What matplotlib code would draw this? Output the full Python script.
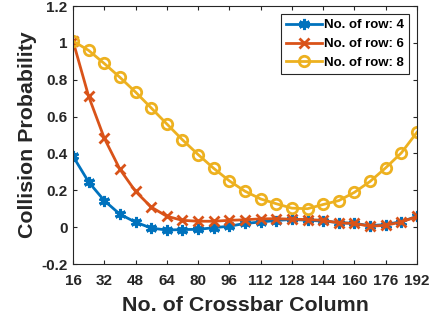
import numpy as np
import matplotlib
matplotlib.use("Agg")
import matplotlib.pyplot as plt

plt.rcParams['font.family'] = ['Liberation Sans', 'DejaVu Sans']
plt.rcParams['font.weight'] = 'bold'

cols = np.arange(16, 193, 8)
row4 = [0.385, 0.245, 0.144, 0.07, 0.027, -0.005, -0.016, -0.013, -0.012, -0.003,
        0.005, 0.02, 0.028, 0.036, 0.042, 0.037, 0.033, 0.025, 0.02, 0.008,
        0.014, 0.03, 0.058]
row6 = [1.01, 0.71, 0.483, 0.314, 0.194, 0.109, 0.059, 0.037, 0.032, 0.032,
        0.037, 0.04, 0.045, 0.046, 0.043, 0.041, 0.037, 0.023, 0.02, 0.005,
        0.01, 0.028, 0.058]
row8 = [1.01, 0.959, 0.888, 0.813, 0.733, 0.647, 0.56, 0.474, 0.394, 0.319,
        0.251, 0.195, 0.153, 0.127, 0.103, 0.1, 0.123, 0.144, 0.189, 0.248,
        0.322, 0.403, 0.515]
labels = ["No. of row: 4", "No. of row: 6", "No. of row: 8"]

fig = plt.figure(figsize=(4.35, 3.21), dpi=100)
# axes box: x 73..417 px, y 6..264 px
ax = fig.add_axes([73 / 435, 1 - 264 / 321, 344 / 435, 258 / 321])

ax.plot(cols, row4, color='#0072BD', lw=2, marker=(6, 2, 0), ms=8, mew=2.2,
        label=labels[0])
ax.plot(cols, row6, color='#D95319', lw=2, marker='x', ms=6.5, mew=2,
        label=labels[1])
ax.plot(cols, row8, color='#EDB120', lw=2, marker='o', ms=7.5, mew=2,
        mfc='none', label=labels[2])

ax.set_xlim(16, 192)
ax.set_ylim(-0.2, 1.2)
ax.set_xticks(np.arange(16, 193, 16))
ax.set_yticks(np.arange(-0.2, 1.21, 0.2))
ax.set_yticklabels(['-0.2', '0', '0.2', '0.4', '0.6', '0.8', '1', '1.2'])
ax.tick_params(direction='in', top=True, right=True, labelsize=11,
               length=3, width=0.8, colors='#262626', labelcolor='#262626')
ax.tick_params(axis='x', pad=7)
ax.tick_params(axis='y', pad=4)
for s in ax.spines.values():
    s.set_color('#262626')
    s.set_linewidth(0.8)

ax.set_xlabel("No. of Crossbar Column", fontsize=15.4, fontweight='bold',
              color='#262626', labelpad=6)
ax.set_ylabel("Collision Probability", fontsize=15.4, fontweight='bold',
              color='#262626', labelpad=3)

leg = ax.legend(loc='upper right', fontsize=9.5, fancybox=False,
                edgecolor='#262626', framealpha=1, handlelength=2.7,
                borderpad=0.4, labelspacing=0.5, handletextpad=0.15,
                borderaxespad=0.6)
leg.get_frame().set_linewidth(0.8)

fig.savefig("out.png", dpi=100)
